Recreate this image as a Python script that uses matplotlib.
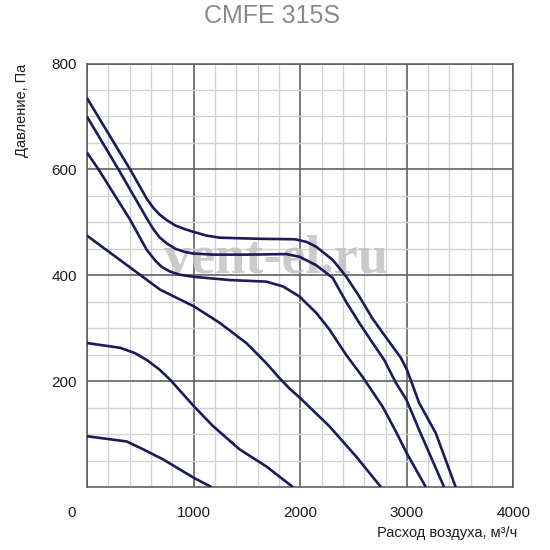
import matplotlib
matplotlib.use("Agg")
import matplotlib.pyplot as plt
from matplotlib.ticker import MultipleLocator
from matplotlib.transforms import ScaledTranslation

plt.rcParams['font.family'] = ['Liberation Sans', 'DejaVu Sans']

# --- data (air flow m3/h, pressure Pa) ---
title = "CMFE 315S"
x_label = "Расход воздуха, м³/ч"
y_label = "Давление, Па"
x_ticks = [0, 1000, 2000, 3000, 4000]
y_ticks = [200, 400, 600, 800]

curve1_x = [0, 405, 560, 620, 680, 750, 830, 920, 1000, 1120, 1246, 1600,
            1950, 2060, 2150, 2305, 2430, 2554, 2679, 2800, 2944, 3000, 3115,
            3271, 3458]
curve1_y = [735, 600, 545, 528, 515, 504, 494, 487, 482, 475, 471, 469,
            468, 463, 454, 429, 398, 360, 318, 284, 244, 222, 159,
            102, 0]

curve2_x = [0, 296, 560, 620, 680, 750, 830, 920, 1000, 1183, 1500, 1870,
            1993, 2150, 2305, 2430, 2554, 2670, 2788, 2897, 2996, 3115, 3349]
curve2_y = [700, 600, 508, 488, 472, 460, 450, 444, 441, 439, 439, 440,
            435, 419, 395, 350, 310, 275, 240, 197, 165, 108, 0]

curve3_x = [0, 109, 405, 561, 640, 700, 780, 872, 1006, 1339, 1682, 1838,
            1993, 2150, 2273, 2430, 2585, 2772, 2897, 2996, 3178]
curve3_y = [632, 600, 505, 448, 428, 416, 407, 401, 397, 391, 388, 379,
            360, 329, 298, 250, 208, 152, 105, 65, 0]

curve4_x = [0, 498, 685, 1006, 1246, 1495, 1682, 1800, 1900, 2000, 2273,
            2523, 2757]
curve4_y = [475, 401, 373, 341, 310, 272, 234, 207, 186, 168, 115,
            58, 0]

curve5_x = [0, 311, 450, 561, 680, 779, 1006, 1183, 1433, 1682, 1931]
curve5_y = [272, 263, 253, 240, 222, 203, 152, 115, 71, 39, 0]

curve6_x = [0, 374, 520, 716, 1006, 1168]
curve6_y = [96, 86, 72, 52, 17, 0]

curves = [
    (curve1_x, curve1_y),
    (curve2_x, curve2_y),
    (curve3_x, curve3_y),
    (curve4_x, curve4_y),
    (curve5_x, curve5_y),
    (curve6_x, curve6_y),
]

line_color = '#1b1b5c'

fig = plt.figure(figsize=(5.5, 5.5), dpi=100)
ax = fig.add_axes([0.158, 0.1145, 0.7756, 0.770])

# grid: light minor, dark major
ax.set_xlim(0, 4000)
ax.set_ylim(0, 800)
ax.xaxis.set_major_locator(MultipleLocator(1000))
ax.xaxis.set_minor_locator(MultipleLocator(200))
ax.yaxis.set_major_locator(MultipleLocator(200))
ax.yaxis.set_minor_locator(MultipleLocator(50))
ax.grid(which='minor', color='#d2d2d2', linewidth=1.0)
ax.grid(which='major', color='#606060', linewidth=1.2)
ax.set_axisbelow(True)
for spine in ax.spines.values():
    spine.set_color('#606060')
    spine.set_linewidth(1.2)

# watermark
ax.text(0.443, 0.535, "vent-el.ru", transform=ax.transAxes,
        family='Liberation Serif', fontweight='bold', fontsize=39,
        color='#c2c2c2', alpha=0.85, ha='center', va='center', zorder=1.5)

for cx, cy in curves:
    ax.plot(cx, cy, color=line_color, linewidth=1.9, zorder=3,
            solid_joinstyle='round', solid_capstyle='butt')

# ticks
ax.set_xticks(x_ticks)
ax.set_yticks(y_ticks)
ax.tick_params(which='both', length=0)
ax.tick_params(axis='x', pad=14, labelsize=11, labelcolor='#1e1e1e')
ax.tick_params(axis='y', pad=7, labelsize=11, labelcolor='#1e1e1e')

# the "0" label sits left of the axis corner in the original
zero_lbl = ax.xaxis.get_major_ticks()[0].label1
zero_lbl.set_transform(zero_lbl.get_transform()
                       + ScaledTranslation(-0.15, 0, fig.dpi_scale_trans))

# titles and axis names
fig.text(0.4955, 1 - 16 / 550, title, ha='center', va='center',
         fontsize=18, color='#8a8a8a')
fig.text(517 / 550, 1 - 533 / 550, x_label, ha='right', va='center',
         fontsize=10.5, color='#1e1e1e')
fig.text(22 / 550, 1 - 64 / 550, y_label, ha='center', va='top',
         rotation=90, fontsize=10.5, color='#1e1e1e')

fig.savefig('out.png', dpi=100)
